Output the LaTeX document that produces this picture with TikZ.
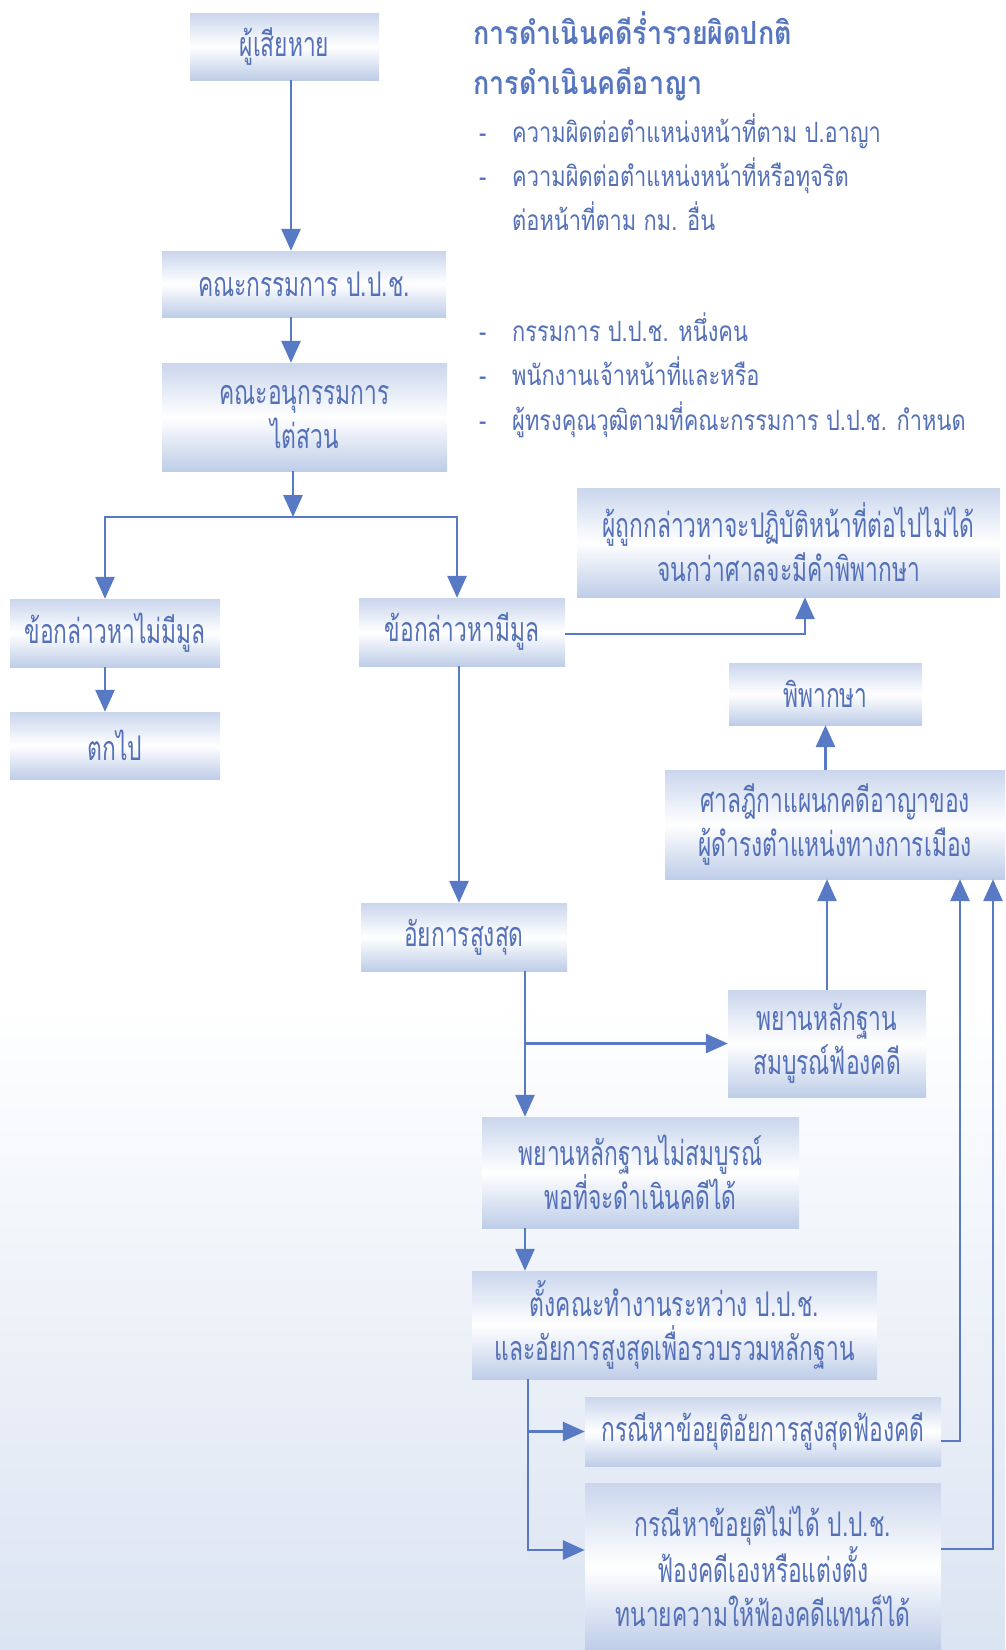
\documentclass[tikz,border=0pt]{standalone}
\usepackage{fontspec}
\usetikzlibrary{arrows.meta}
\newfontfamily\thbox[Script=Thai,FakeStretch=0.67]{Loma}
\newfontfamily\thlist[Script=Thai,FakeStretch=0.78]{Loma}
\newfontfamily\thhead[Script=Thai,FakeStretch=0.84]{Loma}
\definecolor{linecol}{RGB}{88,122,196}
\definecolor{textcol}{RGB}{84,112,184}
\definecolor{headcol}{RGB}{86,118,192}
\definecolor{boxtop}{RGB}{202,214,237}
\definecolor{boxbot}{RGB}{190,205,232}
\definecolor{bgblue}{RGB}{219,228,242}
\tikzset{
  box/.style={rectangle, inner sep=0pt, top color=boxtop, bottom color=boxbot, middle color=white,
    text=textcol, align=center, font=\thbox\fontsize{34}{44}\selectfont},
  arr/.style={draw=linecol, line width=2.9pt, -{Triangle[length=22pt,width=19pt]}},
  heading/.style={anchor=base west, inner sep=0pt, text=headcol, font=\thhead\bfseries\fontsize{32}{34}\selectfont},
  listtxt/.style={anchor=base west, inner sep=0pt, text=textcol, font=\thlist\fontsize{28}{30}\selectfont}
}
\begin{document}
\begin{tikzpicture}[x=1pt,y=-1pt]
\useasboundingbox (0,0) rectangle (1005,1650);
\fill[white] (0,0) rectangle (1005,1000);
\shade[top color=white,bottom color=bgblue] (0,1000) rectangle (1005,1650);

% headings and lists
\node[heading] (t1) at (473,44) {การดำเนินคดีร่ำรวยผิดปกติ};
\node[heading] (t2) at (473,94) {การดำเนินคดีอาญา};
\node[listtxt] (d1) at (479,142) {-};
\node[listtxt] (l1) at (512,142) {ความผิดต่อตำแหน่งหน้าที่ตาม ป.อาญา};
\node[listtxt] (d2) at (479,186) {-};
\node[listtxt] (l2) at (512,186) {ความผิดต่อตำแหน่งหน้าที่หรือทุจริต};
\node[listtxt] (l3) at (512,230) {ต่อหน้าที่ตาม กม. อื่น};
\node[listtxt] (d4) at (479,341) {-};
\node[listtxt] (l4) at (512,341) {กรรมการ ป.ป.ช. หนึ่งคน};
\node[listtxt] (d5) at (479,385) {-};
\node[listtxt] (l5) at (512,385) {พนักงานเจ้าหน้าที่และหรือ};
\node[listtxt] (d6) at (479,430) {-};
\node[listtxt] (l6) at (512,430) {ผู้ทรงคุณวุฒิตามที่คณะกรรมการ ป.ป.ช. กำหนด};

% boxes
\node[box, minimum width=189pt, minimum height=67pt] (b1) at (284.5,46.5) {ผู้เสียหาย};
\node[box, minimum width=284pt, minimum height=66pt] (b2) at (304,284) {คณะกรรมการ ป.ป.ช.};
\node[box, minimum width=285pt, minimum height=108pt, text depth=-4pt] (b3) at (304.5,417) {คณะอนุกรรมการ\\ไต่สวน};
\node[box, minimum width=210pt, minimum height=68pt] (b4) at (115,633) {ข้อกล่าวหาไม่มีมูล};
\node[box, minimum width=210pt, minimum height=67pt] (b6) at (115,745.5) {ตกไป};
\node[box, minimum width=206pt, minimum height=68pt] (b5) at (462,632) {ข้อกล่าวหามีมูล};
\node[box, minimum width=423pt, minimum height=109pt] (b7) at (788.5,542.5) {ผู้ถูกกล่าวหาจะปฏิบัติหน้าที่ต่อไปไม่ได้\\จนกว่าศาลจะมีคำพิพากษา};
\node[box, minimum width=193pt, minimum height=62pt] (b8) at (825.5,694) {พิพากษา};
\node[box, minimum width=340pt, minimum height=109pt] (b9) at (835,824.5) {ศาลฎีกาแผนกคดีอาญาของ\\ผู้ดำรงตำแหน่งทางการเมือง};
\node[box, minimum width=206pt, minimum height=68pt] (b10) at (464,937) {อัยการสูงสุด};
\node[box, minimum width=198pt, minimum height=107pt] (b11) at (827,1043.5) {พยานหลักฐาน\\สมบูรณ์ฟ้องคดี};
\node[box, minimum width=317pt, minimum height=111pt] (b12) at (640.5,1172.5) {พยานหลักฐานไม่สมบูรณ์\\พอที่จะดำเนินคดีได้};
\node[box, minimum width=405pt, minimum height=108pt] (b13) at (674.5,1325) {ตั้งคณะทำงานระหว่าง ป.ป.ช.\\และอัยการสูงสุดเพื่อรวบรวมหลักฐาน};
\node[box, minimum width=356pt, minimum height=69pt] (b14) at (763,1431.5) {กรณีหาข้อยุติอัยการสูงสุดฟ้องคดี};
\node[box, minimum width=356pt, minimum height=167pt] (b15) at (763,1566.5) {กรณีหาข้อยุติไม่ได้ ป.ป.ช.\\ฟ้องคดีเองหรือแต่งตั้ง\\ทนายความให้ฟ้องคดีแทนก็ได้};

% connectors
\draw[arr] ([xshift=6.5pt]b1.south) -- ([xshift=-13pt]b2.north);
\draw[arr] ([xshift=-13pt]b2.south) -- ([xshift=-13.5pt]b3.north);
\coordinate (j1) at (293,517);
\draw[arr] ([xshift=-11.5pt]b3.south) -- (j1);
\draw[arr] (j1) -| ([xshift=-10pt]b4.north);
\draw[arr] (j1) -| ([xshift=-5pt]b5.north);
\draw[arr] ([xshift=-10pt]b4.south) -- ([xshift=-10pt]b6.north);
\draw[arr] ([yshift=-2pt]b5.east) -| ([xshift=16.5pt]b7.south);
\draw[arr] ([xshift=-3pt]b5.south) -- ([xshift=-5pt]b10.north);
\coordinate (j2) at ([xshift=61pt]b10.south |- b11.west);
\draw[arr] ([xshift=61pt]b10.south) -- ([xshift=-115.5pt]b12.north);
\draw[arr] (j2) -- (b11.west);
\draw[arr] (b11.north) -- (b11.north |- b9.south);
\draw[arr] (b8.south |- b9.north) -- (b8.south);
\draw[arr] ([xshift=-115.5pt]b12.south) -- ([xshift=-149.5pt]b13.north);
\coordinate (j3) at ([xshift=-146.5pt]b13.south |- b14.west);
\draw[arr] ([xshift=-146.5pt]b13.south) |- ([yshift=16.5pt]b15.west);
\draw[arr] (j3) -- (b14.west);
\draw[arr] ([yshift=-9.5pt]b14.east) -| ([xshift=125pt]b9.south);
\draw[arr] ([yshift=17.5pt]b15.east) -| ([xshift=158pt]b9.south);
\end{tikzpicture}
\end{document}
